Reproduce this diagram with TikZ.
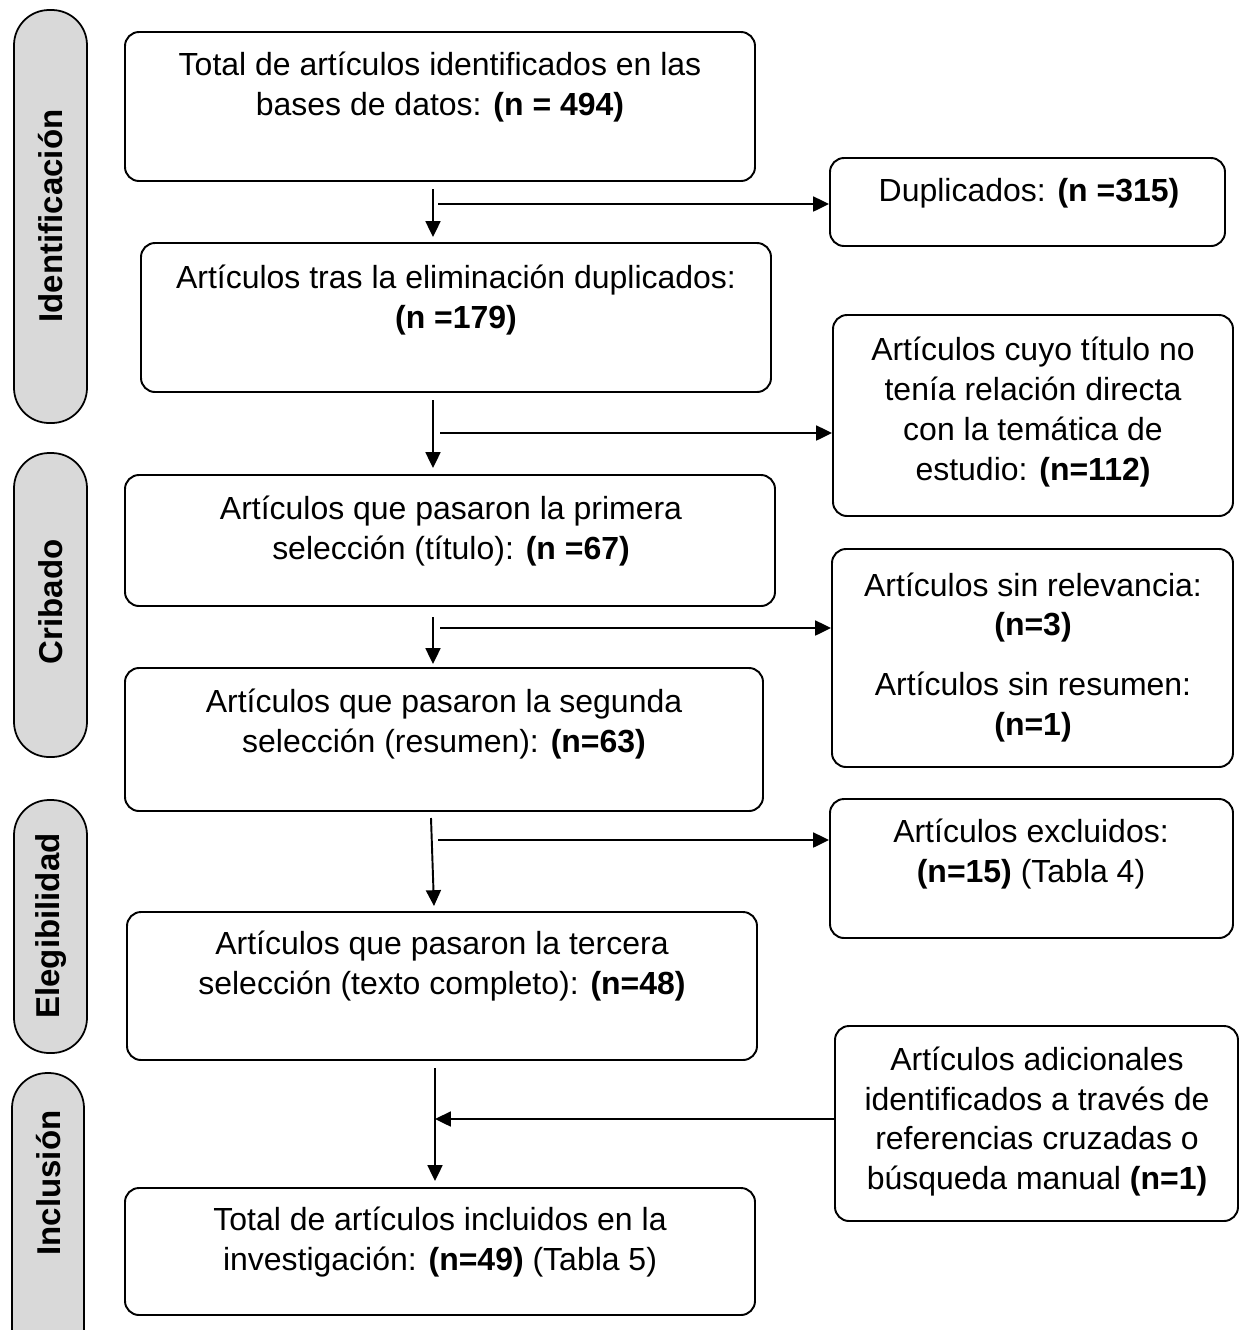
\documentclass[tikz,border=0pt]{standalone}
\usepackage{fontspec}
\setmainfont{Liberation Sans}
\usetikzlibrary{arrows.meta,fit}
\definecolor{sidegray}{HTML}{D9D9D9}
\begin{document}
\begin{tikzpicture}[x=0.02cm,y=-0.02cm,
  box/.style={draw, line width=1.1pt, rounded corners=8pt, inner sep=0pt},
  sidebox/.style={draw, fill=sidegray, line width=1pt, rounded corners=20pt, inner sep=0pt},
  txt/.style={align=center, inner sep=0pt, font=\fontsize{18.2}{22.7}\selectfont},
  sidetxt/.style={rotate=90, inner sep=0pt, font=\fontsize{18.8}{22}\selectfont\bfseries},
  arr/.style={line width=1.1pt, -{Triangle[length=9pt,width=8.5pt]}}]
\useasboundingbox (0,0) rectangle (1240,1330);

% side labels
\node[sidebox, fit={(14,10)(87,423)}] (s1) {};
\node[sidetxt] (s1t) at (51,216) {Identificación};
\node[sidebox, fit={(14,453)(87,757)}] (s2) {};
\node[sidetxt] (s2t) at (51,602) {Cribado};
\node[sidebox, fit={(14,800)(87,1053)}] (s3) {};
\node[sidetxt] (s3t) at (51,926) {Elegibilidad};
\node[sidebox, fit={(12,1073)(84,1400)}] (s4) {};
\node[sidetxt] (s4t) at (49,1183) {Inclusión};

% main boxes
\node[box, fit={(125,32)(755,181)}] (b1) {};
\node[txt] (b1t) at (440,87) {Total de artículos identificados en las\\bases de datos: \textbf{(n = 494)}};

\node[box, fit={(830,158)(1225,246)}] (b2) {};
\node[txt] (b2t) at (1029,193) {Duplicados: \textbf{(n =315)}};

\node[box, fit={(141,243)(771,392)}] (b3) {};
\node[txt] (b3t) at (456,300) {Artículos tras la eliminación duplicados:\\\textbf{(n =179)}};

\node[box, fit={(833,315)(1233,516)}] (b4) {};
\node[txt] (b4t) at (1033,412) {Artículos cuyo título no\\tenía relación directa\\con la temática de\\estudio: \textbf{(n=112)}};

\node[box, fit={(125,475)(775,606)}] (b5) {};
\node[txt] (b5t) at (451,531) {Artículos que pasaron la primera\\selección (título): \textbf{(n =67)}};

\node[box, fit={(832,549)(1233,767)}] (b6) {};
\node[txt] (b6t) at (1033,607.5) {Artículos sin relevancia:\\\textbf{(n=3)}};
\node[txt] (b6u) at (1033,707) {Artículos sin resumen:\\\textbf{(n=1)}};

\node[box, fit={(125,668)(763,811)}] (b7) {};
\node[txt] (b7t) at (444,724) {Artículos que pasaron la segunda\\selección (resumen): \textbf{(n=63)}};

\node[box, fit={(830,799)(1233,938)}] (b8) {};
\node[txt] (b8t) at (1031,854) {Artículos excluidos:\\\textbf{(n=15)} (Tabla 4)};

\node[box, fit={(127,912)(757,1060)}] (b9) {};
\node[txt] (b9t) at (442,966) {Artículos que pasaron la tercera\\selección (texto completo): \textbf{(n=48)}};

\node[box, fit={(835,1026)(1238,1221)}] (b10) {};
\node[txt] (b10t) at (1037,1121.5) {Artículos adicionales\\identificados a través de\\referencias cruzadas o\\búsqueda manual \textbf{(n=1)}};

\node[box, fit={(125,1188)(755,1315)}] (b11) {};
\node[txt] (b11t) at (440,1242) {Total de artículos incluidos en la\\investigación: \textbf{(n=49)} (Tabla 5)};

% connectors
\coordinate (v1s) at (433,189); \coordinate (v1e) at (433,237);
\draw[arr] (v1s) -- (v1e);
\coordinate (h1) at (438,204);
\draw[arr] (h1) -- (h1 -| b2.west);

\coordinate (v2s) at (433,400); \coordinate (v2e) at (433,468);
\draw[arr] (v2s) -- (v2e);
\coordinate (h2) at (440,433);
\draw[arr] (h2) -- (h2 -| b4.west);

\coordinate (v3s) at (433,617); \coordinate (v3e) at (433,664);
\draw[arr] (v3s) -- (v3e);
\coordinate (h3) at (440,628);
\draw[arr] (h3) -- (h3 -| b6.west);

\coordinate (v4s) at (431,818); \coordinate (v4e) at (434,906);
\draw[arr] (v4s) -- (v4e);
\coordinate (h4) at (438,840);
\draw[arr] (h4) -- (h4 -| b8.west);

\coordinate (v5s) at (435,1068); \coordinate (v5e) at (435,1181);
\draw[arr] (v5s) -- (v5e);
\coordinate (h5) at (435,1119);
\draw[arr] (h5 -| b10.west) -- (h5);
\end{tikzpicture}
\end{document}
